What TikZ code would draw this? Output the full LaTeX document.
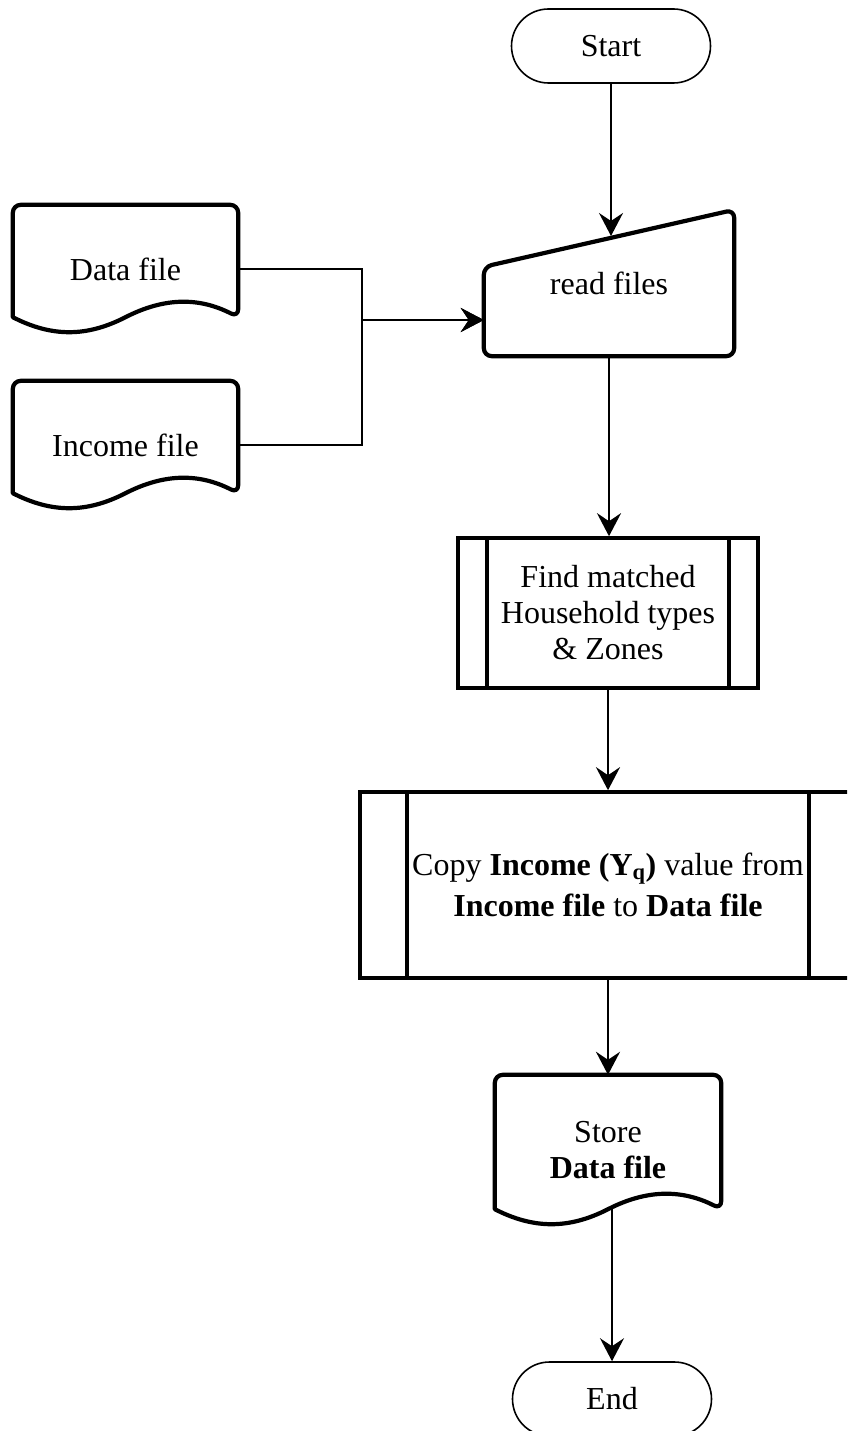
\documentclass[tikz,border=0pt]{standalone}
\usepackage{fontspec}
\setmainfont{Liberation Serif}
\usetikzlibrary{arrows.meta,calc}

\tikzset{
  term/.style={draw, line width=1.6pt, rounded corners=37pt,
    minimum width=199pt, minimum height=74pt, inner sep=0pt},
  frame/.style={inner sep=0pt, align=center},
  boxline/.style={line width=4.2pt, line join=round},
  procbox/.style={draw, line width=3.6pt, inner sep=0pt, align=center},
  link/.style={line width=2.6pt, -{Stealth[length=23pt,width=24pt,inset=8pt]}},
  thinlink/.style={link, line width=1.9pt},
}

% document symbol: flat top with rounded corners, wavy bottom edge
\newcommand\docoutline[1]{%
  \draw[boxline] ($(#1.south west)+(0,-16)$) [rounded corners=8pt]
    -- (#1.north west) -- (#1.north east) -- ($(#1.south east)+(0,-16)$) [sharp corners]
    .. controls +(-39,-20) and +(39,-20) .. ($(#1.south)+(0,-16)$)
    .. controls +(-39,20) and +(39,20) .. ($(#1.south west)+(0,-16)$) -- cycle;}

\begin{document}
\begin{tikzpicture}[x=1pt, y=-1pt, font=\fontsize{32}{36}\selectfont]
\useasboundingbox (0,0) rectangle (847,1431);
\clip (0,0) rectangle (847,1431);

% terminals
\node[term] (start) at (611,46) {Start};
\node[term] (end) at (612,1399) {End};

% manual input
\node[frame, minimum width=250pt, minimum height=146pt] (read) at (609,283) {read files};
\draw[boxline, rounded corners=8pt] (read.south west) -- ($(read.north west)+(0,57)$)
  -- (read.north east) -- (read.south east) -- cycle;
\coordinate (readtop) at (611,236);

% input documents
\node[frame, minimum width=225pt, minimum height=128pt] (data) at (125.5,269) {Data file};
\docoutline{data}
\node[frame, minimum width=225pt, minimum height=128pt] (income) at (125.5,445) {Income file};
\docoutline{income}

% predefined processes
\node[procbox, minimum width=300pt, minimum height=150pt] (find) at (608,613)
  {Find matched\\Household types\\\& Zones};
\draw[procbox] ($(find.north west)+(31,0)$) -- ($(find.south west)+(31,0)$);
\draw[procbox] ($(find.north east)+(-31,0)$) -- ($(find.south east)+(-31,0)$);

\node[procbox, minimum width=496pt, minimum height=186pt, font=\fontsize{32}{41}\selectfont] (copy) at (608,885)
  {Copy \textbf{Income (Y\textsubscript{q})} value from\\\textbf{Income file} to \textbf{Data file}};
\draw[procbox] ($(copy.north west)+(49,0)$) -- ($(copy.south west)+(49,0)$);
\draw[procbox] ($(copy.north east)+(-49,0)$) -- ($(copy.south east)+(-49,0)$);

% output document
\node[frame, minimum width=226pt, minimum height=150pt] (store) at (608,1150)
  {Store\\\textbf{Data file}};
\docoutline{store}
\coordinate (storeout) at (612,1206);

% connectors
\coordinate (join) at (362,320);
\draw[thinlink] (start.south) -- (readtop);
\draw[link] (data.east) -| (join) -- (join -| read.west);
\draw[link] (income.east) -| (join) -- (join -| read.west);
\draw[link] (read.south) -- (read.south |- find.north);
\draw[link] (find.south) -- (copy.north);
\draw[link] (copy.south) -- (store.north);
\draw[thinlink] (storeout) -- (end.north);
\end{tikzpicture}
\end{document}
